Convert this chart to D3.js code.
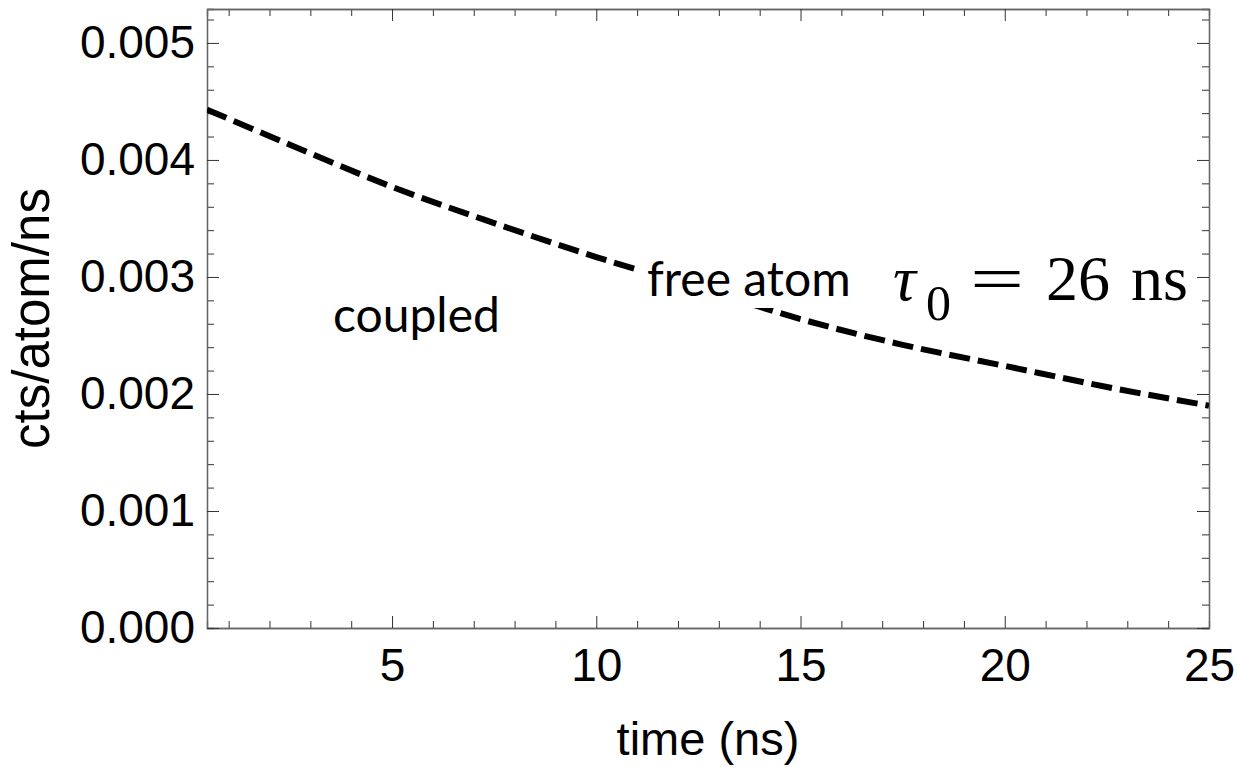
<!DOCTYPE html>
<html>
<head>
<meta charset="utf-8">
<script src="https://cdn.jsdelivr.net/npm/d3@7"></script>
<style>
  body { margin: 0; background: #fff; }
  text { fill: #000; }
</style>
</head>
<body>
<svg id="chart" width="1237" height="767"></svg>
<script>
// values
const times  = [0.47, 2.5, 5, 7.5, 10, 12.5, 15, 17.5, 20, 22.5, 25]
const counts = [0.00443, 0.00413, 0.00377, 0.00346, 0.00317, 0.00291, 0.00264, 0.00242, 0.00224, 0.00206, 0.00190]

const xMajor = [5, 10, 15, 20, 25]
const xMinor = d3.range(1, 25).filter(d => d % 5 !== 0)
const yMajor = [0, 0.001, 0.002, 0.003, 0.004, 0.005]
const yMinor = d3.range(1, 27).filter(d => d % 5 !== 0).map(d => d * 0.0002)
const xDomain = [0.47, 25]
const yDomain = [0, 0.00529]

const svg = d3.select("#chart")
const pLeft = 207, pRight = 1209, pTop = 9, pBottom = 628

svg.append("rect").attr("width", 1237).attr("height", 767).attr("fill", "#fff")

const x = d3.scaleLinear().domain(xDomain).range([pLeft, pRight])
const y = d3.scaleLinear().domain(yDomain).range([pBottom, pTop])

function styleAxis(g) {
   g.select(".domain").attr("stroke", "#666").attr("stroke-width", 1.3)
   g.selectAll(".tick line").attr("stroke", "#333").attr("stroke-width", 1)
   g.selectAll(".tick text")
      .attr("font-family", "'Liberation Sans', Arial, sans-serif")
      .attr("font-size", 46)
      .attr("fill", "#000")
}

// minor ticks first, majors on top
svg.append("g").attr("transform", `translate(0,${pBottom})`)
   .call(d3.axisBottom(x).tickValues(xMinor).tickSize(-7).tickFormat(""))
   .call(styleAxis)
svg.append("g").attr("transform", `translate(0,${pTop})`)
   .call(d3.axisTop(x).tickValues(xMinor).tickSize(-7).tickFormat(""))
   .call(styleAxis)
svg.append("g").attr("transform", `translate(${pLeft},0)`)
   .call(d3.axisLeft(y).tickValues(yMinor).tickSize(-7).tickFormat(""))
   .call(styleAxis)
svg.append("g").attr("transform", `translate(${pRight},0)`)
   .call(d3.axisRight(y).tickValues(yMinor).tickSize(-7).tickFormat(""))
   .call(styleAxis)

svg.append("g").attr("transform", `translate(0,${pBottom})`)
   .call(d3.axisBottom(x).tickValues(xMajor).tickSizeInner(-12).tickSizeOuter(0).tickPadding(20).tickFormat(d3.format("d")))
   .call(styleAxis)
svg.append("g").attr("transform", `translate(0,${pTop})`)
   .call(d3.axisTop(x).tickValues(xMajor).tickSizeInner(-12).tickSizeOuter(0).tickFormat(""))
   .call(styleAxis)
svg.append("g").attr("transform", `translate(${pLeft},0)`)
   .call(d3.axisLeft(y).tickValues(yMajor).tickSizeInner(-12).tickSizeOuter(0).tickPadding(12).tickFormat(d3.format(".3f")))
   .call(styleAxis)
svg.append("g").attr("transform", `translate(${pRight},0)`)
   .call(d3.axisRight(y).tickValues(yMajor).tickSizeInner(-12).tickSizeOuter(0).tickFormat(""))
   .call(styleAxis)

// the decay curve
svg.append("clipPath").attr("id", "plot")
   .append("rect").attr("x", pLeft).attr("y", pTop).attr("width", pRight - pLeft).attr("height", pBottom - pTop)

const line = d3.line()
   .x((d, i) => x(times[i]))
   .y(d => y(d))
   .curve(d3.curveMonotoneX)

svg.append("path")
   .attr("clip-path", "url(#plot)")
   .attr("d", line(counts))
   .attr("fill", "none")
   .attr("stroke", "#000")
   .attr("stroke-width", 6)
   .attr("stroke-dasharray", "21,8")

// labels inside the plot
const humanist = "Lato, 'Open Sans', sans-serif"

svg.append("text")
   .attr("x", 333).attr("y", 332)
   .attr("font-family", humanist).attr("font-size", 48)
   .text("coupled")

const freeBg = svg.append("rect").attr("fill", "#fff")
const free = svg.append("text")
   .attr("x", 647).attr("y", 296)
   .attr("font-family", humanist).attr("font-size", 48)
   .text("free atom")
const fb = free.node().getBBox()
freeBg.attr("x", fb.x - 10).attr("y", fb.y).attr("width", fb.width + 20).attr("height", fb.height + 2)

// tau_0 = 26 ns, set piece by piece like the TeX label
const serif = "'Liberation Serif', 'DejaVu Serif', serif"
const tauY = 300
svg.append("text").attr("x", 893).attr("y", tauY)
   .attr("font-family", serif).attr("font-size", 64).attr("font-style", "italic").text("τ")
svg.append("text").attr("x", 926).attr("y", tauY + 20)
   .attr("font-family", serif).attr("font-size", 50).text("0")
svg.append("text")
   .attr("transform", `translate(970,${tauY}) scale(1.5,1)`)
   .attr("font-family", serif).attr("font-size", 64).text("=")
svg.append("text").attr("x", 1046).attr("y", tauY)
   .attr("font-family", serif).attr("font-size", 64).text("26")
svg.append("text").attr("x", 1188).attr("y", tauY).attr("text-anchor", "end")
   .attr("font-family", serif).attr("font-size", 64).text("ns")

// axis titles
svg.append("text")
   .attr("x", (pLeft + pRight) / 2).attr("y", 755)
   .attr("text-anchor", "middle")
   .attr("font-family", "'Liberation Sans', Arial, sans-serif").attr("font-size", 47)
   .text("time (ns)")

svg.append("text")
   .attr("transform", `translate(49,${(pTop + pBottom) / 2}) rotate(-90)`)
   .attr("text-anchor", "middle")
   .attr("font-family", "'Liberation Sans', Arial, sans-serif").attr("font-size", 51)
   .text("cts/atom/ns")
</script>
</body>
</html>
